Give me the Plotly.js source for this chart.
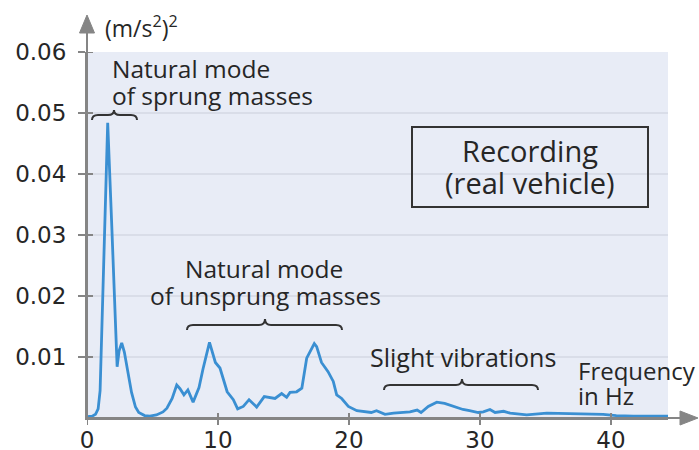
<!DOCTYPE html>
<html>
<head>
<meta charset="utf-8">
<script src="https://cdn.plot.ly/plotly-3.0.1.min.js"></script>
<style>html,body{margin:0;padding:0;background:#fff;}#chart{width:699px;height:450px;}</style>
</head>
<body>
<div id="chart"></div>
<script>
// ---- data ----
var freqHz = [0, 0.4, 0.65, 0.85, 1.0, 1.3, 1.58, 1.9, 2.3, 2.45, 2.65, 2.85, 3.05, 3.4, 3.7, 3.95, 4.4, 4.8, 5.3, 5.8, 6.1, 6.5, 6.85, 7.1, 7.4, 7.7, 8.1, 8.55, 8.85, 9.35, 9.8, 10.15, 10.7, 11.17, 11.5, 11.93, 12.37, 12.95, 13.53, 14.35, 14.86, 15.24, 15.5, 16.0, 16.4, 16.77, 17.35, 17.53, 17.9, 18.4, 18.8, 19.06, 19.44, 19.95, 20.6, 21.35, 21.7, 22.1, 22.75, 23.4, 24.65, 25.2, 25.5, 26.05, 26.7, 27.3, 27.96, 28.7, 29.2, 29.87, 30.25, 30.76, 31.15, 31.8, 32.3, 33.05, 33.56, 35.1, 37.9, 39.4, 40.4, 41.7, 44.4];
var accelPSD = [0.0002, 0.0003, 0.0006, 0.0015, 0.0045, 0.0285, 0.0484, 0.031, 0.0084, 0.011, 0.0123, 0.0108, 0.0084, 0.0042, 0.0018, 0.0009, 0.0004, 0.0003, 0.0005, 0.001, 0.0016, 0.0032, 0.0054, 0.0048, 0.0038, 0.0046, 0.0026, 0.005, 0.008, 0.0124, 0.0091, 0.0082, 0.0043, 0.003, 0.0015, 0.0019, 0.003, 0.0018, 0.0035, 0.0032, 0.004, 0.0034, 0.0042, 0.0043, 0.0049, 0.0098, 0.0122, 0.0117, 0.0091, 0.0076, 0.006, 0.0038, 0.0032, 0.0019, 0.0012, 0.001, 0.0009, 0.0012, 0.0006, 0.0008, 0.001, 0.0013, 0.0009, 0.0019, 0.0026, 0.0024, 0.0019, 0.0014, 0.0012, 0.0009, 0.001, 0.0014, 0.0009, 0.0011, 0.0008, 0.0006, 0.0005, 0.0008, 0.0006, 0.0006, 0.0004, 0.0003, 0.0003];
var xTicks = [0, 10, 20, 30, 40];
var yTicks = [0.01, 0.02, 0.03, 0.04, 0.05, 0.06];
var yTickText = ['0.01', '0.02', '0.03', '0.04', '0.05', '0.06'];
var yUnit = '(m/s<sup>2</sup>)<sup>2</sup>';
var xUnitLines = ['Frequency', 'in Hz'];
var sprungLines = ['Natural mode', 'of sprung masses'];
var unsprungLines = ['Natural mode', 'of unsprung masses'];
var slightLabel = 'Slight vibrations';
var boxLines = ['Recording', '(real vehicle)'];

// ---- layout geometry helpers (pixels -> paper) ----
var M = {l: 87, r: 31, t: 52, b: 32};
var W = 699 - M.l - M.r, H = 450 - M.t - M.b;
function PX(px) { return (px - M.l) / W; }
function PY(py) { return (M.t + H - py) / H; }
var FONT = '"Open Sans", "Noto Sans", sans-serif';
var TICKFONT = '"DejaVu Sans", sans-serif';
var TXT = '#262626';
var AX = '#858585';

function txt(text, px, py, anchor, size) {
  return {text: text, xref: 'paper', yref: 'paper', x: PX(px), y: PY(py),
    xanchor: anchor, yanchor: 'middle', showarrow: false,
    font: {family: FONT, size: size || 24.5, color: TXT}};
}
function brace(x0, x1, xc, yE, ym, yT) {
  var r = 6;
  var p = 'M' + PX(x0) + ',' + PY(yE) +
    ' Q' + PX(x0) + ',' + PY(ym) + ' ' + PX(x0 + r) + ',' + PY(ym) +
    ' L' + PX(xc - r) + ',' + PY(ym) +
    ' Q' + PX(xc) + ',' + PY(ym) + ' ' + PX(xc) + ',' + PY(yT) +
    ' Q' + PX(xc) + ',' + PY(ym) + ' ' + PX(xc + r) + ',' + PY(ym) +
    ' L' + PX(x1 - r) + ',' + PY(ym) +
    ' Q' + PX(x1) + ',' + PY(ym) + ' ' + PX(x1) + ',' + PY(yE);
  return {type: 'path', xref: 'paper', yref: 'paper', path: p,
    line: {color: '#333', width: 2}};
}

var shapes = [
  // axis extensions and arrowheads
  {type: 'line', xref: 'paper', yref: 'paper', x0: 0, x1: 0, y0: 0, y1: PY(33), line: {color: AX, width: 2}},
  {type: 'path', xref: 'paper', yref: 'paper', path: 'M' + PX(79.5) + ',' + PY(33) + ' L' + PX(87) + ',' + PY(15) + ' L' + PX(94.5) + ',' + PY(33) + ' Z', fillcolor: AX, line: {color: AX, width: 1}},
  {type: 'line', xref: 'paper', yref: 'paper', x0: 0, x1: PX(680), y0: 0, y1: 0, line: {color: AX, width: 2}},
  {type: 'path', xref: 'paper', yref: 'paper', path: 'M' + PX(680) + ',' + PY(411) + ' L' + PX(698) + ',' + PY(418) + ' L' + PX(680) + ',' + PY(425) + ' Z', fillcolor: AX, line: {color: AX, width: 1}},
  // recording box
  {type: 'rect', xref: 'paper', yref: 'paper', x0: PX(412), x1: PX(648), y0: PY(127), y1: PY(207), line: {color: '#333', width: 2}},
  brace(92, 137, 114, 120, 115, 110),
  brace(187, 342, 265, 330, 325, 319),
  brace(384, 538, 462, 390, 385, 379)
];
// inner halves of y ticks (ticks cross the axis line)
yTicks.forEach(function (v) {
  shapes.push({type: 'line', xref: 'paper', yref: 'y', x0: 0, x1: PX(93), y0: v, y1: v, line: {color: AX, width: 2}});
});
// x ticks crossing the axis line
xTicks.forEach(function (v) {
  shapes.push({type: 'line', xref: 'x', yref: 'paper', x0: v, x1: v, y0: PY(425), y1: PY(413), line: {color: AX, width: 2}});
});

var annotations = [
  txt(yUnit, 103, 27, 'left', 23),
  txt(sprungLines[0], 110, 68, 'left'),
  txt(sprungLines[1], 110, 95, 'left'),
  txt(unsprungLines[0], 264, 268, 'center'),
  txt(unsprungLines[1], 265, 295, 'center'),
  txt(slightLabel, 463, 357, 'center', 25),
  txt(xUnitLines[0], 576, 370, 'left', 24),
  txt(xUnitLines[1], 576, 395, 'left', 24),
  txt(boxLines[0], 530, 150, 'center', 29),
  txt(boxLines[1], 530, 183, 'center', 29)
];

var trace = {x: freqHz, y: accelPSD, type: 'scatter', mode: 'lines',
  line: {color: '#3a8fd2', width: 2.8, shape: 'linear'}, hoverinfo: 'skip', cliponaxis: false};

var layout = {
  width: 699, height: 450,
  margin: M,
  paper_bgcolor: '#ffffff',
  plot_bgcolor: '#e8ecf6',
  showlegend: false,
  xaxis: {range: [0, 44.35], tickvals: xTicks, ticktext: xTicks.map(String),
    showgrid: false, zeroline: false, showline: true, linecolor: AX, linewidth: 2,
    ticks: '', ticklabelstandoff: 0,
    tickfont: {family: TICKFONT, size: 23, color: TXT}, fixedrange: true},
  yaxis: {range: [0, 0.06], tickvals: yTicks, ticktext: yTickText,
    showgrid: true, gridcolor: '#d9dde8', gridwidth: 1.5, zeroline: false,
    showline: true, linecolor: AX, linewidth: 2,
    ticks: 'outside', ticklen: 7, tickwidth: 2, tickcolor: AX,
    tickfont: {family: TICKFONT, size: 23, color: TXT}, ticklabelstandoff: 7, fixedrange: true},
  shapes: shapes,
  annotations: annotations
};

Plotly.newPlot('chart', [trace], layout, {displayModeBar: false, staticPlot: true});
</script>
</body>
</html>
